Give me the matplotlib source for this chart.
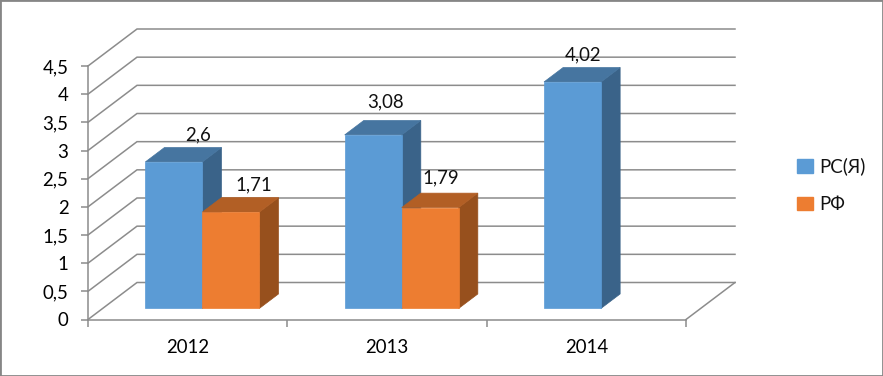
import matplotlib

matplotlib.use("Agg")
import matplotlib.pyplot as plt
from matplotlib.patches import Patch, Polygon, Rectangle

years = ["2012", "2013", "2014"]
series_names = ["РС(Я)", "РФ"]
rs_values = [2.6, 3.08, 4.02]
rf_values = [1.71, 1.79, None]
y_ticks = [0, 0.5, 1, 1.5, 2, 2.5, 3, 3.5, 4, 4.5]

# label nudges in pixels, from the top front edge of each bar
rs_label_offsets = [(24, 27), (12, 33), (11, 27)]
rf_label_offsets = [(23, 27), (11, 30), None]

W, H = 883, 376
GREY = "#8c8c8c"
FONT = 13.4
front_colors = ["#5b9bd5", "#ed7d31"]
side_colors = ["#3a6389", "#97501d"]
top_colors = ["#4675a0", "#b25f25"]

plt.rcParams["font.family"] = ["Lato", "Open Sans", "DejaVu Sans"]
plt.rcParams["font.size"] = FONT
plt.rcParams["text.color"] = "#111111"

fig = plt.figure(figsize=(W / 100, H / 100), dpi=100)
ax = fig.add_axes([88 / W, 1 - 319.5 / H, 598 / W, 253.5 / H])
ax.set_xlim(0, 3)
ax.set_ylim(0, 4.5)
ax.patch.set_visible(False)

# oblique depth of the box, in data units
DEPTH_X = 49 / (598 / 3)
DEPTH_Y = 37 / (253.5 / 4.5)
BAR_W = 0.286
BAR_D0, BAR_D1 = 0.3, 0.69


def proj(x, y, d):
    return (x + d * DEPTH_X, y + d * DEPTH_Y)


# walls and floor
for v in y_ticks:
    ax.plot(*zip(proj(0, v, 0), proj(0, v, 1), proj(3, v, 1)), color=GREY, lw=1.1,
            clip_on=False, zorder=1, solid_joinstyle="miter")
ax.plot(*zip(proj(3, 0, 0), proj(3, 0, 1)), color=GREY, lw=1.1, clip_on=False, zorder=1)


def draw_bar(x0, value, k):
    x1 = x0 + BAR_W
    z = 3 + k
    front = [proj(x0, 0, BAR_D0), proj(x1, 0, BAR_D0), proj(x1, value, BAR_D0), proj(x0, value, BAR_D0)]
    side = [proj(x1, 0, BAR_D0), proj(x1, 0, BAR_D1), proj(x1, value, BAR_D1), proj(x1, value, BAR_D0)]
    top = [proj(x0, value, BAR_D0), proj(x1, value, BAR_D0), proj(x1, value, BAR_D1), proj(x0, value, BAR_D1)]
    for pts, col in [(side, side_colors[k]), (top, top_colors[k]), (front, front_colors[k])]:
        ax.add_patch(Polygon(pts, closed=True, facecolor=col, edgecolor=col, lw=0.5, zorder=z, clip_on=False))


def draw_label(x0, value, offset):
    text = f"{value:g}".replace(".", ",")
    ax.annotate(text, proj(x0 + BAR_W / 2, value, BAR_D0), xytext=offset, textcoords="offset pixels",
                ha="center", va="center", fontsize=FONT, zorder=6, annotation_clip=False)


for i in range(len(years)):
    left = i + 0.5 - BAR_W
    draw_bar(left, rs_values[i], 0)
    if rf_values[i] is not None:
        draw_bar(left + BAR_W, rf_values[i], 1)
for i in range(len(years)):
    left = i + 0.5 - BAR_W
    draw_label(left, rs_values[i], rs_label_offsets[i])
    if rf_values[i] is not None:
        draw_label(left + BAR_W, rf_values[i], rf_label_offsets[i])

# axes
for name in ["top", "right"]:
    ax.spines[name].set_visible(False)
for name in ["left", "bottom"]:
    ax.spines[name].set_color(GREY)
    ax.spines[name].set_linewidth(1.1)
    ax.spines[name].set_zorder(2)
ax.set_yticks(y_ticks)
ax.set_yticklabels([f"{v:g}".replace(".", ",") for v in y_ticks], fontsize=FONT)
ax.tick_params(axis="y", length=5, width=1.1, color=GREY, pad=9)
ax.set_xticks(range(len(years) + 1))
ax.set_xticklabels([])
ax.tick_params(axis="x", which="major", length=5, width=1.1, color=GREY)
ax.set_xticks([i + 0.5 for i in range(len(years))], minor=True)
ax.set_xticklabels(years, minor=True, fontsize=FONT)
ax.tick_params(axis="x", which="minor", length=0, pad=14)

handles = [Patch(facecolor=c, edgecolor=c, label=n) for c, n in zip(front_colors, series_names)]
fig.legend(handles=handles, loc="upper left", bbox_to_anchor=(790 / W, 1 - 150 / H), frameon=False,
           fontsize=FONT, handlelength=0.85, handleheight=0.75, handletextpad=0.32, labelspacing=1.1,
           borderpad=0.4, borderaxespad=0)

# chart frame
fig.add_artist(Rectangle((0, 0), 1, 1, transform=fig.transFigure, fill=False, edgecolor="#868686", lw=2))

fig.savefig("out.png", dpi=100)
